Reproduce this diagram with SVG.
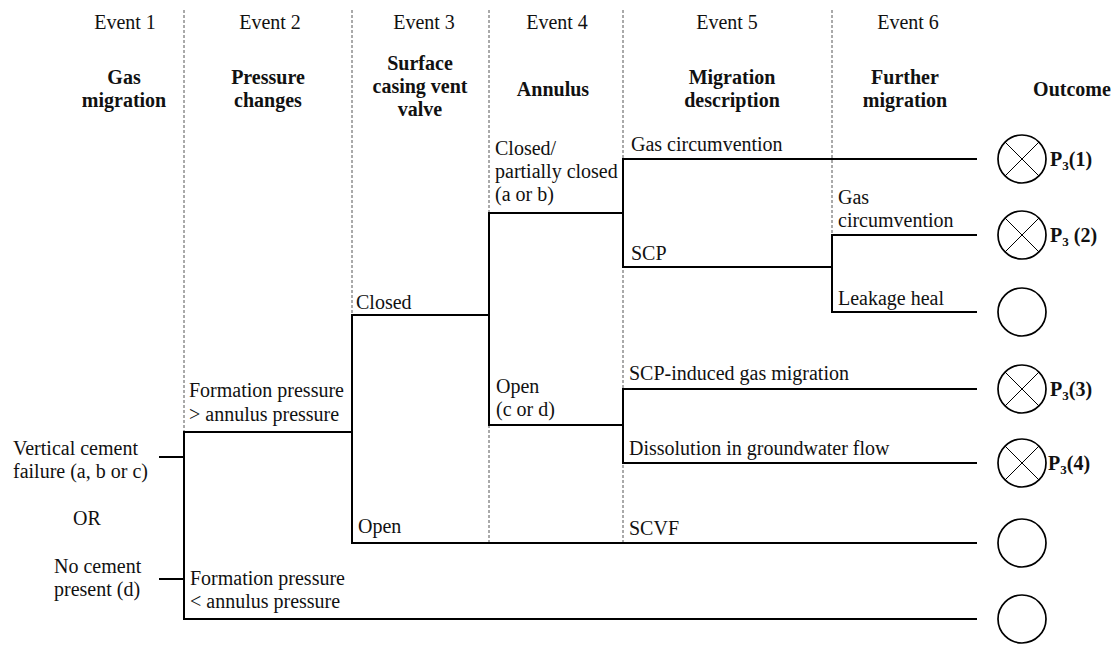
<svg xmlns="http://www.w3.org/2000/svg" width="1113" height="646" viewBox="0 0 1113 646">
<style>
.t{font-family:"Liberation Serif",Tinos,"Nimbus Roman","FreeSerif","Noto Serif","DejaVu Serif",serif;font-size:20px;fill:#111}
.m{text-anchor:middle}
.b{font-weight:bold}
.ln{stroke:#000;stroke-width:2;fill:none;stroke-linecap:square}
.d{stroke:#555;stroke-width:1;stroke-dasharray:3 2;fill:none}
.c{fill:#fff;stroke:#000;stroke-width:1.7}
.x{stroke:#000;stroke-width:1}
</style>
<rect width="1113" height="646" fill="#fff"/>
<g id="columns">
<path class="d" d="M184 10V432M352 10V315M489 10V543M623 10V543M832 10V235"/>
</g>
<g id="headers">
<g id="event1"><text class="t m" x="125" y="29">Event 1</text><text class="t m b" x="124" y="84">Gas</text><text class="t m b" x="124" y="107">migration</text></g>
<g id="event2"><text class="t m" x="270" y="29">Event 2</text><text class="t m b" x="268" y="84">Pressure</text><text class="t m b" x="268" y="107">changes</text></g>
<g id="event3"><text class="t m" x="424" y="29">Event 3</text><text class="t m b" x="420" y="70">Surface</text><text class="t m b" x="420" y="93">casing vent</text><text class="t m b" x="420" y="116">valve</text></g>
<g id="event4"><text class="t m" x="557" y="29">Event 4</text><text class="t m b" x="553" y="96">Annulus</text></g>
<g id="event5"><text class="t m" x="727" y="29">Event 5</text><text class="t m b" x="732" y="84">Migration</text><text class="t m b" x="732" y="107">description</text></g>
<g id="event6"><text class="t m" x="908" y="29">Event 6</text><text class="t m b" x="905" y="84">Further</text><text class="t m b" x="905" y="107">migration</text></g>
<g id="outcome-header"><text class="t m b" x="1072" y="96">Outcome</text></g>
</g>
<g id="connectors">
<path class="ln" d="M160 457H184M160 579H184M184 432V619M184 432H352M184 619H976M352 315V543M352 315H489M352 543H976M489 213V425M489 213H623M489 425H623M623 159V267M623 159H976M623 267H832M832 235V312M832 235H976M832 312H976M623 389V463M623 389H976M623 463H976"/>
</g>
<g id="start-a"><text class="t" x="13" y="455">Vertical cement</text><text class="t" x="13" y="478">failure (a, b or c)</text></g>
<g id="or"><text class="t" x="73" y="525">OR</text></g>
<g id="start-b"><text class="t" x="54" y="573">No cement</text><text class="t" x="54" y="596">present (d)</text></g>
<g id="fp-high"><text class="t" x="189" y="397">Formation pressure</text><text class="t" x="189" y="421">&gt; annulus pressure</text></g>
<g id="fp-low"><text class="t" x="190" y="585">Formation pressure</text><text class="t" x="190" y="608">&lt; annulus pressure</text></g>
<g id="scvv-closed"><text class="t" x="356" y="309">Closed</text></g>
<g id="scvv-open"><text class="t" x="358" y="533">Open</text></g>
<g id="annulus-closed"><text class="t" x="495" y="155">Closed/</text><text class="t" x="495" y="178">partially closed</text><text class="t" x="495" y="201">(a or b)</text></g>
<g id="annulus-open"><text class="t" x="496" y="393">Open</text><text class="t" x="496" y="416">(c or d)</text></g>
<g id="gas-circ"><text class="t" x="631" y="151">Gas circumvention</text></g>
<g id="scp"><text class="t" x="631" y="260">SCP</text></g>
<g id="gas-circ-2"><text class="t" x="838" y="204">Gas</text><text class="t" x="838" y="227">circumvention</text></g>
<g id="leak-heal"><text class="t" x="838" y="305">Leakage heal</text></g>
<g id="scp-induced"><text class="t" x="629" y="380">SCP-induced gas migration</text></g>
<g id="dissolution"><text class="t" x="629" y="455">Dissolution in groundwater flow</text></g>
<g id="scvf"><text class="t" x="629" y="535">SCVF</text></g>
<g id="outcome1"><circle class="c" cx="1022" cy="159" r="24"/><path class="x" d="M1005 142L1039 176M1039 142L1005 176"/><text class="t b" x="1050" y="166">P<tspan font-size="13" dy="4">3</tspan><tspan dy="-4">(1)</tspan></text></g>
<g id="outcome2"><circle class="c" cx="1022" cy="235" r="24"/><path class="x" d="M1005 218L1039 252M1039 218L1005 252"/><text class="t b" x="1050" y="242">P<tspan font-size="13" dy="4">3</tspan><tspan dy="-4"> (2)</tspan></text></g>
<g id="outcome3"><circle class="c" cx="1022" cy="312" r="24"/></g>
<g id="outcome4"><circle class="c" cx="1022" cy="389" r="24"/><path class="x" d="M1005 372L1039 406M1039 372L1005 406"/><text class="t b" x="1050" y="396">P<tspan font-size="13" dy="4">3</tspan><tspan dy="-4">(3)</tspan></text></g>
<g id="outcome5"><circle class="c" cx="1022" cy="463" r="24"/><path class="x" d="M1005 446L1039 480M1039 446L1005 480"/><text class="t b" x="1048" y="470">P<tspan font-size="13" dy="4">3</tspan><tspan dy="-4">(4)</tspan></text></g>
<g id="outcome6"><circle class="c" cx="1022" cy="543" r="24"/></g>
<g id="outcome7"><circle class="c" cx="1022" cy="619" r="24"/></g>
</svg>
